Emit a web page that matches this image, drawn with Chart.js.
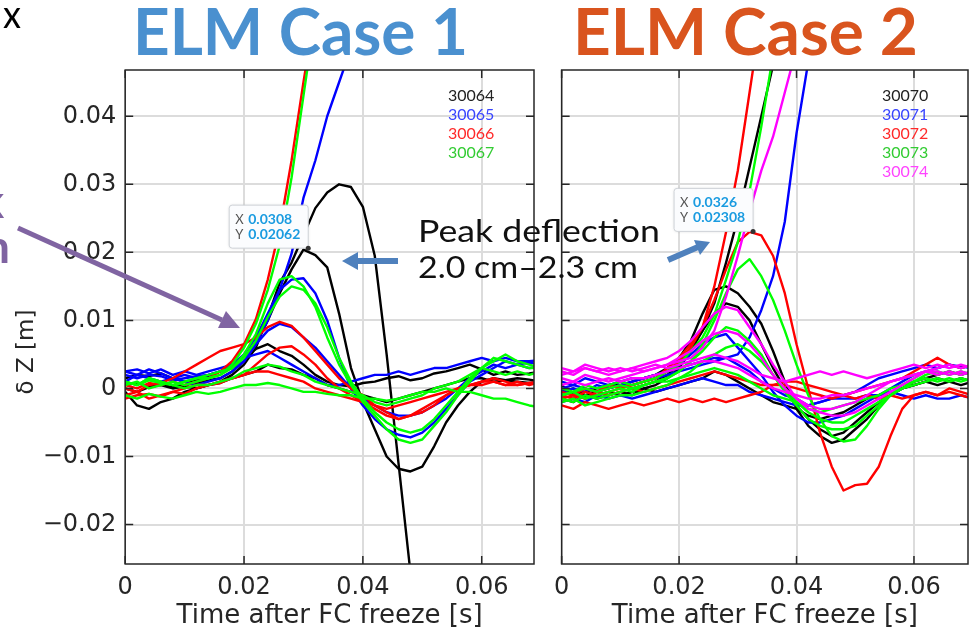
<!DOCTYPE html>
<html>
<head>
<meta charset="utf-8">
<script src="https://cdn.jsdelivr.net/npm/chart.js@4.4.1/dist/chart.umd.min.js"></script>
<style>
  html, body { margin: 0; padding: 0; background: #fff; }
  #page { position: relative; width: 969px; height: 633px; overflow: hidden; }
  #c1 { position: absolute; left: 0; top: 0; }
  #c2 { position: absolute; left: 545px; top: 0; }
  #overlay { position: absolute; left: 0; top: 0; pointer-events: none; }
</style>
</head>
<body>
<div id="page">
  <canvas id="c1" width="545" height="633"></canvas>
  <canvas id="c2" width="424" height="633"></canvas>
  <svg id="overlay" width="969" height="633">
    <text x="3" y="28" font-family="Lato" font-size="38" fill="#000" textLength="18" lengthAdjust="spacingAndGlyphs">x</text>
    <text x="133" y="55" font-family="Lato" font-weight="bold" font-size="65" fill="#4a90cf" textLength="335" lengthAdjust="spacingAndGlyphs">ELM Case 1</text>
    <text x="573" y="55" font-family="Lato" font-weight="bold" font-size="65" fill="#d9541e" textLength="345" lengthAdjust="spacingAndGlyphs">ELM Case 2</text>
    <text x="4" y="218" text-anchor="end" font-family="Lato" font-weight="bold" font-size="46" fill="#7f63a1">k</text>
    <text x="10" y="263" text-anchor="end" font-family="Lato" font-weight="bold" font-size="46" fill="#7f63a1">on</text>
    <line x1="18" y1="228" x2="222" y2="320" stroke="#8064a2" stroke-width="5"/>
    <polygon points="240,328 218,328 226,311" fill="#8064a2"/>
    <text x="418" y="242" font-family="Lato" font-size="31" fill="#111" textLength="242" lengthAdjust="spacingAndGlyphs">Peak deflection</text>
    <text x="418" y="278" font-family="Lato" font-size="31" fill="#111" textLength="220" lengthAdjust="spacingAndGlyphs">2.0 cm–2.3 cm</text>
    <line x1="398" y1="261" x2="356" y2="261" stroke="#4f81bd" stroke-width="6"/>
    <polygon points="342,261 358,252 358,270" fill="#4f81bd"/>
    <line x1="668" y1="260" x2="698" y2="247" stroke="#4f81bd" stroke-width="6"/>
    <polygon points="710,242 700,255 694,240" fill="#4f81bd"/>
  </svg>
</div>
<script>
// time base [s]
var t = [0.000, 0.002, 0.004, 0.006, 0.008, 0.010, 0.012, 0.014, 0.016, 0.018,
         0.020, 0.022, 0.024, 0.026, 0.028, 0.030, 0.032, 0.034, 0.036, 0.038,
         0.040, 0.042, 0.044, 0.046, 0.048, 0.050, 0.052, 0.054, 0.056, 0.058,
         0.060, 0.062, 0.064, 0.066, 0.068, 0.070];

var xTicks = [0, 0.02, 0.04, 0.06];
var yTicks = [-0.02, -0.01, 0, 0.01, 0.02, 0.03, 0.04];

// ELM case 1, deflection in mm
var case1Shots = ['30064', '30065', '30066', '30067'];
var c1Black1 = [-0.5, -2.5, -3.0, -2.0, -1.5, -0.5, 0.0, 0.5, 1.0, 2.0, 3.5, 6.0, 10.5, 15.5, 18.5, 22.5, 26.5, 28.8, 30.0, 29.6, 26.7, 19.5, 5.0, -11.0, -27.0];
var c1Black2 = [0.5, 0.8, 0.3, 0.6, 0.2, 0.5, 0.8, 1.2, 1.5, 2.5, 4.0, 6.5, 10.0, 14.0, 17.5, 20.4, 19.6, 17.8, 11.0, 3.0, -2.0, -6.0, -10.0, -11.8, -12.2, -11.5, -8.5, -5.0, -2.5, -0.5, 1.0, 1.5, 1.2, 1.5, 1.3, 1.0];
var c1Black3 = [1.5, 2.0, 1.8, 2.2, 1.5, 1.0, 1.2, 1.8, 2.5, 3.5, 4.5, 5.8, 6.5, 5.5, 4.8, 3.5, 2.0, 1.0, 0.5, 0.3, 0.8, 1.0, 1.5, 1.8, 1.2, 1.5, 2.2, 2.5, 3.0, 3.5, 2.8, 2.0, 2.5, 2.0, 2.2, 2.5];
var c1Black4 = [0.0, -0.5, 0.2, 0.5, 0.0, 0.3, 0.0, 0.5, 0.8, 1.5, 2.0, 2.5, 3.5, 3.0, 2.8, 2.0, 1.5, 0.5, 0.0, -0.5, -1.0, -1.5, -2.0, -1.5, -1.0, -0.5, 0.0, 0.5, 1.0, 1.5, 1.5, 1.0, 1.2, 1.0, 0.8, 1.0];
var c1Blue1 = [2.0, 1.5, 2.0, 1.8, 1.2, 1.5, 1.8, 2.0, 2.5, 3.0, 4.0, 6.5, 10.0, 14.5, 19.8, 28.0, 33.5, 40.0, 45.0, 50.0];
var c1Blue2 = [2.5, 2.0, 2.8, 2.2, 1.5, 2.0, 1.5, 2.0, 2.5, 3.5, 5.0, 7.5, 11.0, 14.5, 16.0, 16.2, 14.0, 10.0, 4.5, 0.0, -2.5, -4.5, -6.0, -6.8, -7.2, -6.5, -5.0, -3.0, -1.0, 1.0, 2.0, 3.0, 4.0, 3.5, 3.8, 3.5];
var c1Blue3 = [1.0, 2.0, 1.5, 1.0, 1.5, 1.0, 0.5, 1.0, 1.5, 2.5, 4.0, 6.5, 8.5, 9.5, 9.0, 7.5, 6.0, 4.0, 2.0, 0.0, -1.5, -2.5, -3.5, -4.0, -4.0, -3.5, -2.5, -1.5, 0.0, 1.5, 2.5, 3.5, 3.0, 3.5, 3.0, 3.2];
var c1Blue4 = [2.5, 2.8, 2.2, 2.8, 2.0, 2.5, 2.0, 2.5, 3.0, 3.5, 4.5, 5.0, 5.5, 4.5, 3.5, 2.5, 1.5, 0.5, 0.5, 1.0, 1.5, 2.0, 2.0, 2.5, 2.0, 2.5, 3.0, 3.0, 3.5, 4.0, 4.5, 4.0, 4.5, 4.0, 4.0, 4.2];
var c1Red1 = [0.5, 0.0, 0.8, 0.5, 1.0, 0.5, 1.0, 1.5, 2.5, 4.0, 6.5, 10.2, 16.0, 23.5, 33.5, 45.0, 56.0];
var c1Red2 = [0.0, -0.5, 0.5, 0.8, 1.5, 2.5, 3.5, 4.5, 5.5, 6.0, 6.5, 7.5, 9.0, 9.8, 9.2, 7.5, 5.5, 3.5, 1.5, 0.0, -1.0, -2.5, -3.5, -4.5, -4.0, -3.5, -2.5, -1.0, 0.0, 0.5, 1.0, 1.5, 1.0, 0.5, 0.8, 1.0];
var c1Red3 = [-1.0, -0.5, -1.5, -1.0, -0.5, -0.8, 0.0, 0.5, 0.8, 1.5, 2.0, 3.5, 5.0, 6.0, 6.2, 5.0, 3.5, 1.5, 0.0, -1.0, -2.0, -3.0, -4.0, -4.5, -4.0, -3.0, -2.0, -1.0, 0.0, 0.5, 0.5, 1.0, 0.5, 0.5, 0.8, 0.5];
var c1Red4 = [-1.5, -1.0, -0.8, -1.2, -0.5, 0.0, 0.5, 0.5, 1.0, 1.5, 2.0, 2.5, 2.5, 2.0, 1.5, 1.0, 0.0, -0.5, -1.0, -1.5, -2.0, -2.5, -3.0, -2.5, -2.0, -1.5, -1.0, -0.5, 0.0, 0.5, 1.0, 1.0, 0.5, 1.0, 0.5, 1.0];
var c1Green1 = [1.0, 0.5, 1.5, 1.0, 0.5, 1.0, 1.5, 1.5, 2.0, 3.5, 6.0, 9.5, 14.5, 21.0, 31.0, 43.0, 55.0];
var c1Green2 = [0.5, 1.0, 0.0, 0.5, 1.0, 0.5, 1.0, 1.5, 2.0, 3.0, 5.0, 8.0, 12.5, 16.0, 16.5, 15.0, 12.0, 7.5, 3.5, 0.5, -2.0, -4.0, -6.0, -7.5, -8.0, -7.5, -5.5, -3.5, -1.0, 1.0, 3.0, 4.5, 4.0, 3.5, 3.0, 3.0];
var c1Green3 = [1.0, 0.5, 1.2, 0.8, 0.5, 1.0, 1.5, 2.0, 2.5, 3.0, 4.5, 7.0, 10.5, 13.5, 15.0, 14.5, 12.5, 9.0, 4.5, 1.0, -1.5, -3.5, -5.0, -6.0, -6.5, -6.0, -4.5, -2.5, -0.5, 1.5, 3.0, 4.0, 5.0, 4.0, 3.5, 3.0];
var c1Green4 = [1.0, 0.5, 1.5, 1.0, 0.5, 0.0, 0.5, 0.5, 1.0, 1.5, 2.5, 3.0, 3.5, 3.2, 2.5, 2.0, 1.0, 0.5, 0.0, -0.5, -1.0, -2.0, -2.5, -2.0, -1.5, -1.0, 0.0, 0.5, 1.0, 2.0, 3.0, 2.5, 2.0, 2.5, 2.0, 2.5];
var c1Green5 = [-1.0, -1.5, -0.8, -1.2, -1.5, -1.0, -0.5, -0.8, -0.5, 0.0, 0.5, 0.5, 0.8, 0.5, 0.0, -0.5, -0.5, -0.8, -1.0, -1.0, -1.5, -1.5, -1.8, -1.5, -1.0, -0.5, -0.5, 0.0, -0.5, -0.5, -1.0, -1.5, -1.5, -2.0, -2.5, -2.8];

// ELM case 2, deflection in mm
var case2Shots = ['30070', '30071', '30072', '30073', '30074'];
var c2Black1 = [-0.5, 0.0, -1.0, -0.5, 0.0, 0.5, 0.0, 0.5, 1.0, 2.0, 3.5, 6.0, 8.5, 12.5, 18.5, 25.0, 32.5, 40.0, 47.5];
var c2Black2 = [0.5, -1.0, -0.5, 0.0, 0.5, 0.5, 1.0, 1.5, 2.0, 3.0, 4.5, 7.0, 11.0, 14.5, 15.0, 14.0, 12.0, 9.5, 5.5, 1.0, -3.0, -5.5, -7.0, -8.0, -7.5, -6.0, -4.5, -2.5, -1.0, 0.0, 1.0, 1.5, 2.0, 2.5, 2.0, 2.5];
var c2Black3 = [-1.5, -2.0, -1.0, -1.5, -1.0, -0.5, -1.0, 0.0, 0.5, 1.5, 3.0, 5.5, 8.5, 11.0, 12.5, 12.0, 10.0, 6.5, 3.0, 0.0, -2.5, -4.5, -6.0, -7.0, -6.5, -5.0, -3.5, -2.0, -1.0, 0.0, 0.5, 1.0, 1.5, 1.0, 1.5, 1.0];
var c2Black4 = [-1.0, -0.5, -1.5, -1.0, -0.5, -1.0, -0.5, 0.0, -0.5, 0.0, 0.5, 1.0, 1.5, 2.5, 2.0, 1.0, 0.0, -1.0, -2.0, -2.5, -3.0, -4.0, -4.5, -4.0, -3.5, -2.5, -1.5, -1.0, -0.5, 0.0, 0.5, 1.0, 0.5, 1.0, 0.5, 1.0];
var c2Blue1 = [1.0, 0.5, 1.5, 1.0, 0.5, 1.0, 1.5, 1.5, 2.0, 2.5, 3.0, 3.5, 4.0, 4.5, 4.5, 5.0, 7.5, 11.5, 16.5, 24.5, 37.5, 48.0];
var c2Blue2 = [-0.5, 0.0, -0.5, 0.5, 0.0, 0.5, 1.0, 1.5, 2.0, 2.5, 3.5, 5.0, 6.5, 7.5, 8.0, 6.0, 4.0, 2.0, -0.5, -2.5, -4.0, -5.0, -5.0, -4.5, -4.0, -3.0, -2.0, -1.0, 0.0, 1.0, 2.0, 2.5, 3.0, 3.5, 3.0, 3.5];
var c2Blue3 = [0.0, 0.5, 0.0, -0.5, 0.5, 1.0, 0.5, 1.0, 1.5, 2.0, 2.5, 3.0, 3.5, 4.0, 4.5, 3.5, 2.5, 1.0, 0.0, -1.0, -1.5, -2.5, -2.0, -1.5, -1.0, -0.5, 0.5, 1.5, 2.0, 2.5, 3.0, 3.5, 3.0, 3.5, 3.2, 3.0];
var c2Blue4 = [-2.0, -1.5, -2.0, -1.0, -1.5, -1.0, -1.5, -1.0, -0.5, 0.0, 0.5, 1.0, 1.5, 1.0, 0.5, 0.5, -0.5, -1.0, -1.5, -2.0, -2.5, -2.5, -2.0, -1.5, -1.5, -1.5, -1.0, -1.0, -0.5, -1.0, -1.5, -1.0, -1.5, -1.5, -1.0, -1.5];
var c2Red1 = [-1.0, -1.5, -0.5, -1.0, -0.5, 0.0, 0.5, 1.0, 1.5, 3.0, 4.5, 6.5, 9.0, 15.0, 23.0, 32.0, 43.5, 55.0];
var c2Red2 = [-0.5, -1.0, 0.0, -0.5, 0.5, 0.0, 0.5, 1.0, 1.5, 2.5, 4.0, 6.0, 9.0, 13.0, 17.5, 21.5, 23.0, 22.5, 19.5, 14.0, 6.5, 0.0, -6.5, -11.5, -15.0, -14.2, -14.0, -11.5, -7.0, -3.0, -1.0, -0.5, -1.0, 0.0, -0.5, -1.0];
var c2Red3 = [-2.5, -3.0, -2.0, -2.5, -3.0, -2.5, -2.0, -2.5, -2.0, -1.5, -2.0, -1.5, -2.0, -1.5, -2.0, -1.5, -1.0, -0.5, 0.5, 0.5, 0.0, -0.5, -1.0, -1.5, -1.0, -1.5, -1.0, -1.5, -1.0, -1.5, -1.0, -0.5, -1.0, -0.5, -1.0, -1.5];
var c2Red4 = [-1.5, -1.0, -1.5, -0.5, -1.0, -0.5, 0.0, -0.5, 0.0, 0.5, 1.0, 1.5, 2.0, 2.5, 2.0, 1.5, 1.0, 0.5, 0.5, 1.0, 1.0, 0.5, 0.0, -0.5, -1.0, -0.5, 0.0, 0.5, 1.0, 1.5, 2.5, 3.5, 4.5, 3.5, 3.0, 3.5];
var c2Green1 = [0.0, -0.5, 0.5, 0.0, 0.5, 1.0, 0.5, 1.0, 1.5, 2.5, 3.5, 5.5, 7.5, 10.8, 16.0, 21.5, 29.0, 38.5, 49.0];
var c2Green2 = [-1.0, -0.5, -1.5, -1.0, -0.5, 0.0, -0.5, 0.5, 1.0, 1.5, 2.5, 4.0, 6.5, 10.0, 14.0, 17.5, 19.0, 16.5, 13.0, 8.5, 3.5, -1.0, -4.5, -7.0, -7.8, -7.5, -5.5, -3.0, -1.0, 0.5, 1.5, 2.5, 2.0, 2.5, 2.0, 2.5];
var c2Green3 = [-1.5, -2.0, -1.0, -1.5, -1.0, -0.5, 0.0, 0.5, 1.0, 1.5, 2.5, 4.0, 5.5, 7.5, 9.0, 8.5, 7.0, 5.0, 2.0, -0.5, -2.5, -4.5, -5.5, -6.0, -6.0, -5.5, -4.0, -2.5, -1.0, 0.0, 1.0, 2.0, 2.5, 2.0, 2.5, 2.0];
var c2Green4 = [-2.0, -1.5, -2.5, -2.0, -1.5, -1.0, -1.0, -0.5, 0.0, 0.5, 1.5, 2.5, 4.0, 5.0, 6.0, 6.5, 5.5, 4.0, 2.0, 0.0, -2.0, -3.5, -4.5, -5.0, -5.0, -4.0, -3.0, -2.0, -1.0, 0.0, 0.5, 1.0, 1.5, 1.0, 1.5, 1.0];
var c2Green5 = [-1.0, -0.5, 0.0, -0.5, 0.0, 0.5, 0.0, 0.5, 1.0, 1.0, 1.5, 2.0, 2.5, 3.0, 2.5, 2.0, 1.0, 0.0, -1.0, -1.5, -2.0, -3.0, -3.5, -3.0, -2.5, -2.0, -1.5, -1.0, 0.0, 0.5, 1.0, 1.5, 1.0, 1.5, 1.0, 1.5];
var c2Mag1 = [2.5, 2.0, 3.0, 2.5, 2.0, 2.5, 3.0, 2.5, 3.0, 3.5, 4.0, 4.5, 6.0, 8.5, 13.5, 19.5, 26.0, 32.0, 37.0, 43.5, 50.0];
var c2Mag2 = [2.0, 2.5, 3.0, 2.5, 3.0, 2.5, 3.0, 3.5, 4.0, 4.5, 5.5, 7.0, 9.0, 11.0, 12.0, 11.5, 9.0, 6.5, 3.5, 1.0, -1.5, -3.0, -3.5, -4.0, -4.0, -3.5, -2.5, -1.5, -0.5, 0.5, 1.5, 2.5, 3.0, 3.5, 3.0, 3.5];
var c2Mag3 = [1.5, 1.0, 2.0, 1.5, 1.0, 1.5, 2.0, 2.5, 3.0, 3.5, 4.5, 5.5, 7.0, 8.0, 8.5, 8.0, 6.5, 4.5, 2.0, 0.0, -1.5, -2.5, -3.0, -3.0, -2.5, -2.0, -1.0, 0.0, 1.0, 1.5, 2.0, 2.5, 2.0, 2.5, 2.0, 2.5];
var c2Mag4 = [3.0, 2.5, 3.5, 3.0, 2.5, 3.0, 2.5, 3.0, 3.5, 3.0, 3.5, 4.0, 4.5, 5.0, 4.5, 4.0, 3.0, 2.0, 1.5, 1.0, 1.5, 2.0, 2.5, 2.0, 2.5, 2.0, 1.5, 2.0, 2.5, 3.0, 3.5, 3.0, 3.5, 3.0, 3.5, 3.0];
var c2Mag5 = [0.5, 1.0, 0.5, 1.0, 1.5, 1.0, 1.5, 1.5, 2.0, 2.5, 3.0, 3.5, 4.0, 4.0, 3.5, 3.0, 2.0, 1.0, 0.0, -0.5, -1.0, -1.5, -1.5, -1.0, -1.0, -0.5, 0.0, 0.5, 1.0, 1.5, 2.0, 2.5, 2.5, 2.0, 2.5, 2.0];

// data tips (peak deflection read-outs)
var tip1 = { x: 0.0308, y: 0.02062 };
var tip2 = { x: 0.0326, y: 0.02308 };

var BLACK = '#000000', BLUE = '#0000ff', RED = '#ff0000', GREEN = '#00ff00', MAGENTA = '#ff00ff';

var case1 = [
  [c1Black1, BLACK], [c1Black2, BLACK], [c1Black3, BLACK], [c1Black4, BLACK],
  [c1Blue1, BLUE], [c1Blue2, BLUE], [c1Blue3, BLUE], [c1Blue4, BLUE],
  [c1Red1, RED], [c1Red2, RED], [c1Red3, RED], [c1Red4, RED],
  [c1Green1, GREEN], [c1Green2, GREEN], [c1Green3, GREEN], [c1Green4, GREEN], [c1Green5, GREEN]
];
var case2 = [
  [c2Black1, BLACK], [c2Black2, BLACK], [c2Black3, BLACK], [c2Black4, BLACK],
  [c2Blue1, BLUE], [c2Blue2, BLUE], [c2Blue3, BLUE], [c2Blue4, BLUE],
  [c2Red1, RED], [c2Red2, RED], [c2Red3, RED], [c2Red4, RED],
  [c2Green1, GREEN], [c2Green2, GREEN], [c2Green3, GREEN], [c2Green4, GREEN], [c2Green5, GREEN],
  [c2Mag1, MAGENTA], [c2Mag2, MAGENTA], [c2Mag3, MAGENTA], [c2Mag4, MAGENTA], [c2Mag5, MAGENTA]
];

function makeDatasets(list) {
  // first listed is drawn first, so reverse for chart.js draw order
  return list.map(function (tr) {
    return {
      data: tr[0].map(function (mm, i) { return { x: t[i], y: mm / 1000 }; }),
      borderColor: tr[1],
      borderWidth: 2.4,
      borderJoinStyle: 'round',
      pointRadius: 0,
      fill: false,
      tension: 0,
      clip: 0
    };
  }).reverse();
}

function fmtTick(v) {
  if (Math.abs(v) < 1e-9) return '0';
  return (v < 0 ? '\u2212' : '') + Math.abs(v).toFixed(2);
}

var AXIS = '#262626';
var GRID = '#dcdcdc';

// frame, inside ticks, legend text, data tip, y label
var decorPlugin = {
  id: 'decor',
  afterDraw: function (chart, args, opts) {
    var ctx = chart.ctx, a = chart.chartArea;
    var xs = chart.scales.x, ys = chart.scales.y;
    ctx.save();

    ctx.strokeStyle = AXIS;
    ctx.lineWidth = 1.5;
    ctx.strokeRect(a.left, a.top, a.right - a.left, a.bottom - a.top);
    ctx.beginPath();
    xTicks.forEach(function (v) {
      var px = xs.getPixelForValue(v);
      ctx.moveTo(px, a.bottom); ctx.lineTo(px, a.bottom - 8);
      ctx.moveTo(px, a.top); ctx.lineTo(px, a.top + 8);
    });
    yTicks.forEach(function (v) {
      var py = ys.getPixelForValue(v);
      ctx.moveTo(a.left, py); ctx.lineTo(a.left + 8, py);
      ctx.moveTo(a.right, py); ctx.lineTo(a.right - 8, py);
    });
    ctx.stroke();

    // shot list
    ctx.font = '16px Lato';
    ctx.textAlign = 'left';
    ctx.textBaseline = 'middle';
    opts.shots.forEach(function (s, i) {
      ctx.fillStyle = opts.shotColors[i];
      ctx.fillText(s, a.right - 86, a.top + 26 + i * 19);
    });

    // data tip
    var tip = opts.tip;
    var px = xs.getPixelForValue(tip.x), py = ys.getPixelForValue(tip.y);
    var bw = 79, bh = 43, bx = px - bw, by = py - bh;
    ctx.shadowColor = 'rgba(0,0,0,0.15)';
    ctx.shadowBlur = 3;
    ctx.fillStyle = '#fbfcfe';
    ctx.beginPath();
    ctx.roundRect(bx, by, bw, bh, 3);
    ctx.fill();
    ctx.shadowBlur = 0;
    ctx.shadowColor = 'transparent';
    ctx.strokeStyle = '#cfd3d8';
    ctx.lineWidth = 1;
    ctx.stroke();
    ctx.textBaseline = 'alphabetic';
    ctx.font = '13px Lato';
    ctx.fillStyle = '#555';
    ctx.fillText('X', bx + 6, by + 19);
    ctx.fillText('Y', bx + 6, by + 34);
    ctx.font = 'bold 14px Lato';
    ctx.fillStyle = '#1a9be0';
    ctx.fillText(String(tip.x), bx + 19, by + 19);
    ctx.fillText(String(tip.y), bx + 19, by + 34);
    ctx.fillStyle = '#333';
    ctx.beginPath();
    ctx.arc(px, py, 2.5, 0, Math.PI * 2);
    ctx.fill();

    if (opts.yLabel) {
      ctx.translate(27, 352);
      ctx.rotate(-Math.PI / 2);
      ctx.font = '23px "DejaVu Sans"';
      ctx.fillStyle = AXIS;
      ctx.textAlign = 'center';
      ctx.textBaseline = 'middle';
      ctx.fillText(opts.yLabel, 0, 0);
    }
    ctx.restore();
  }
};

function makeOptions(xMax, yWidth, showYLabels, padRight, decor) {
  return {
    responsive: false,
    animation: false,
    devicePixelRatio: 1,
    layout: { padding: { top: 70, right: padRight, left: 0, bottom: 0 } },
    plugins: { legend: { display: false }, tooltip: { enabled: false }, decor: decor },
    scales: {
      x: {
        type: 'linear', min: 0, max: xMax,
        afterBuildTicks: function (s) { s.ticks = xTicks.map(function (v) { return { value: v }; }); },
        afterFit: function (s) { s.height = 69; },
        grid: { color: GRID, lineWidth: 2, drawTicks: false },
        border: { display: false },
        ticks: {
          font: { family: 'DejaVu Sans', size: 24 }, color: AXIS, padding: 9,
          maxRotation: 0, autoSkip: false, callback: function (v) { return fmtTick(v); }
        },
        title: {
          display: true, text: 'Time after FC freeze [s]',
          font: { family: 'DejaVu Sans', size: 26 }, color: AXIS,
          padding: { top: 0, bottom: 1 }
        }
      },
      y: {
        type: 'linear', min: -0.0258, max: 0.0468,
        afterBuildTicks: function (s) { s.ticks = yTicks.map(function (v) { return { value: v }; }); },
        afterFit: function (s) { s.width = yWidth; },
        grid: { color: GRID, lineWidth: 2, drawTicks: false },
        border: { display: false },
        ticks: {
          display: showYLabels,
          font: { family: 'DejaVu Sans', size: 24 }, color: AXIS, padding: 9,
          callback: function (v) { return fmtTick(v); }
        }
      }
    }
  };
}

new Chart(document.getElementById('c1'), {
  type: 'line',
  data: { datasets: makeDatasets(case1) },
  options: makeOptions(0.0688, 125.2, true, 11, {
    shots: case1Shots,
    shotColors: ['#222222', '#3a46ff', '#ff2a2a', '#33cc33'],
    tip: tip1,
    yLabel: '\u03b4 Z [m]'
  }),
  plugins: [decorPlugin]
});

new Chart(document.getElementById('c2'), {
  type: 'line',
  data: { datasets: makeDatasets(case2) },
  options: makeOptions(0.0692, 13, false, 1, {
    shots: case2Shots,
    shotColors: ['#222222', '#3a46ff', '#ff2a2a', '#33cc33', '#ff44ff'],
    tip: tip2,
    yLabel: null
  }),
  plugins: [decorPlugin]
});
</script>
</body>
</html>
